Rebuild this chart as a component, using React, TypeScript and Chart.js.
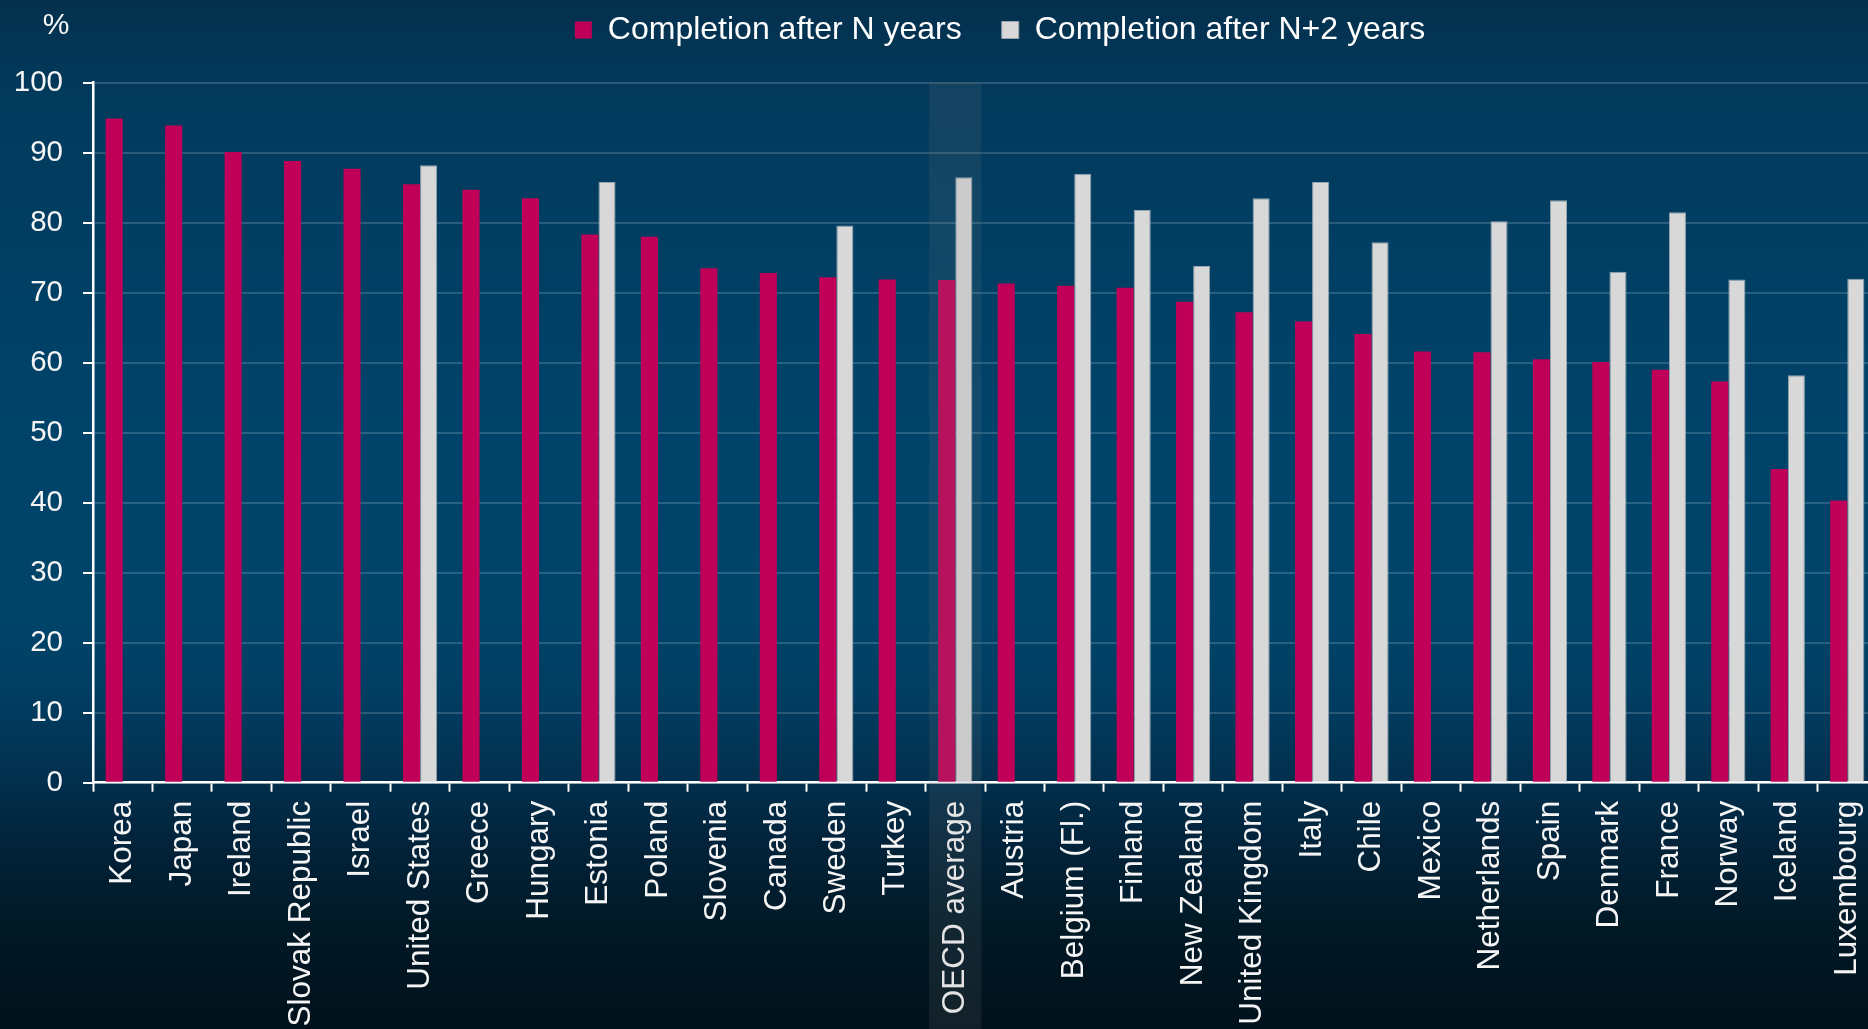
import React, { useEffect, useRef } from 'react';
import { Chart, registerables } from 'chart.js';

Chart.register(...registerables);

const categories = [
  'Korea', 'Japan', 'Ireland', 'Slovak Republic', 'Israel', 'United States', 'Greece', 'Hungary',
  'Estonia', 'Poland', 'Slovenia', 'Canada', 'Sweden', 'Turkey', 'OECD average', 'Austria',
  'Belgium (Fl.)', 'Finland', 'New Zealand', 'United Kingdom', 'Italy', 'Chile', 'Mexico',
  'Netherlands', 'Spain', 'Denmark', 'France', 'Norway', 'Iceland', 'Luxembourg',
];

const completionAfterN = [
  94.9, 93.9, 90.1, 88.8, 87.7, 85.5, 84.7, 83.5, 78.3, 78.0, 73.5, 72.8, 72.2, 71.9, 71.8,
  71.3, 71.0, 70.7, 68.7, 67.2, 65.9, 64.1, 61.6, 61.5, 60.5, 60.1, 59.0, 57.3, 44.8, 40.3,
];

const completionAfterN2 = [
  null, null, null, null, null, 88.2, null, null, 85.8, null, null, null, 79.6, null, 86.5,
  null, 87.0, 81.8, 73.8, 83.5, 85.8, 77.2, null, 80.2, 83.2, 73.0, 81.5, 71.9, 58.2, 72.0,
];

const seriesLabels = ['Completion after N years', 'Completion after N+2 years'];
const yMin = 0;
const yMax = 100;
const yStep = 10;
const unitLabel = '%';
const highlightCategory = 'OECD average';

const FONT = "'Liberation Sans', Arial, Helvetica, sans-serif";
const CANVAS_W = 2000;
const CANVAS_H = 1029;
const TEXT = '#F5F5F5';

const highlightPlugin = {
  id: 'highlightBand',
  afterDraw(chart: any) {
    const x = chart.scales.x;
    const idx = categories.indexOf(highlightCategory);
    if (idx < 0) return;
    const step = x.getPixelForValue(1) - x.getPixelForValue(0);
    const cx = x.getPixelForValue(idx);
    const w = step * 0.88;
    const ctx = chart.ctx;
    ctx.save();
    ctx.fillStyle = 'rgba(128,128,128,0.14)';
    ctx.fillRect(cx - w / 2, chart.chartArea.top, w, chart.height - chart.chartArea.top);
    ctx.restore();
  },
};

const unitPlugin = {
  id: 'unitLabel',
  afterDraw(chart: any) {
    const { ctx, chartArea } = chart;
    ctx.save();
    ctx.font = `30px ${FONT}`;
    ctx.fillStyle = TEXT;
    ctx.textAlign = 'center';
    ctx.textBaseline = 'middle';
    ctx.fillText(unitLabel, chartArea.left - 37, chartArea.top - 57);
    ctx.restore();
  },
};

export default function App() {
  const ref = useRef<HTMLCanvasElement | null>(null);

  useEffect(() => {
    if (!ref.current) return;
    const chart = new Chart(ref.current, {
      type: 'bar',
      data: {
        labels: categories,
        datasets: [
          {
            label: seriesLabels[0],
            data: completionAfterN,
            backgroundColor: '#C00058',
            borderWidth: 0,
            categoryPercentage: 0.575,
            barPercentage: 1,
          },
          {
            label: seriesLabels[1],
            data: completionAfterN2 as any,
            backgroundColor: '#D8D8D8',
            borderColor: '#98A4AE',
            borderWidth: 1,
            categoryPercentage: 0.575,
            barPercentage: 1,
          },
        ],
      },
      options: {
        responsive: false,
        maintainAspectRatio: false,
        devicePixelRatio: 1,
        animation: false,
        layout: { padding: { top: -26, left: 0, right: 0, bottom: 0 } },
        plugins: {
          tooltip: { enabled: false },
          legend: {
            display: true,
            position: 'top',
            align: 'center',
            labels: {
              boxWidth: 17,
              boxHeight: 17,
              padding: 40,
              color: '#FFFFFF',
              font: { family: FONT, size: 32 },
            },
          },
        },
        scales: {
          x: {
            type: 'category',
            offset: true,
            grid: {
              display: true,
              offset: true,
              drawOnChartArea: false,
              drawTicks: true,
              tickLength: 9,
              tickWidth: 2,
              tickColor: '#FFFFFF',
            },
            border: { display: true, color: '#FFFFFF', width: 2.5 },
            ticks: {
              autoSkip: false,
              maxRotation: 90,
              minRotation: 90,
              padding: 9,
              color: TEXT,
              font: { family: FONT, size: 31.5 },
            },
            afterFit: (s: any) => {
              s.height = 246.3;
            },
          },
          y: {
            min: yMin,
            max: yMax,
            ticks: {
              stepSize: yStep,
              padding: 20,
              color: TEXT,
              font: { family: FONT, size: 29.5 },
            },
            grid: {
              color: 'rgba(255,255,255,0.16)',
              lineWidth: 2,
              drawTicks: true,
              tickLength: 10,
              tickWidth: 2,
              tickColor: '#FFFFFF',
            },
            border: { display: true, color: '#FFFFFF', width: 2.5 },
            afterFit: (s: any) => {
              s.width = 93;
            },
          },
          xTop: {
            type: 'linear',
            position: 'top',
            display: true,
            grid: { display: false },
            ticks: { display: false },
            border: { display: false },
            afterFit: (s: any) => {
              s.height = 26.7;
            },
          },
          yRight: {
            type: 'linear',
            position: 'right',
            display: true,
            grid: { display: false },
            ticks: { display: false },
            border: { display: false },
            afterFit: (s: any) => {
              s.width = CANVAS_W - 1877;
            },
          },
        } as any,
      },
      plugins: [highlightPlugin, unitPlugin],
    });
    return () => chart.destroy();
  }, []);

  return (
    <div
      style={{
        position: 'fixed',
        left: 0,
        top: 0,
        width: '1868px',
        height: '1029px',
        overflow: 'hidden',
        background:
          'linear-gradient(to bottom, #04304d 0%, #023a5c 9%, #00436a 40%, #00446a 60%, #013d61 68%, #022f4d 76%, #02233a 82%, #011926 90%, #01111b 100%)',
      }}
    >
      <canvas
        ref={ref}
        width={CANVAS_W}
        height={CANVAS_H}
        style={{ display: 'block', width: CANVAS_W + 'px', height: CANVAS_H + 'px' }}
      />
    </div>
  );
}
